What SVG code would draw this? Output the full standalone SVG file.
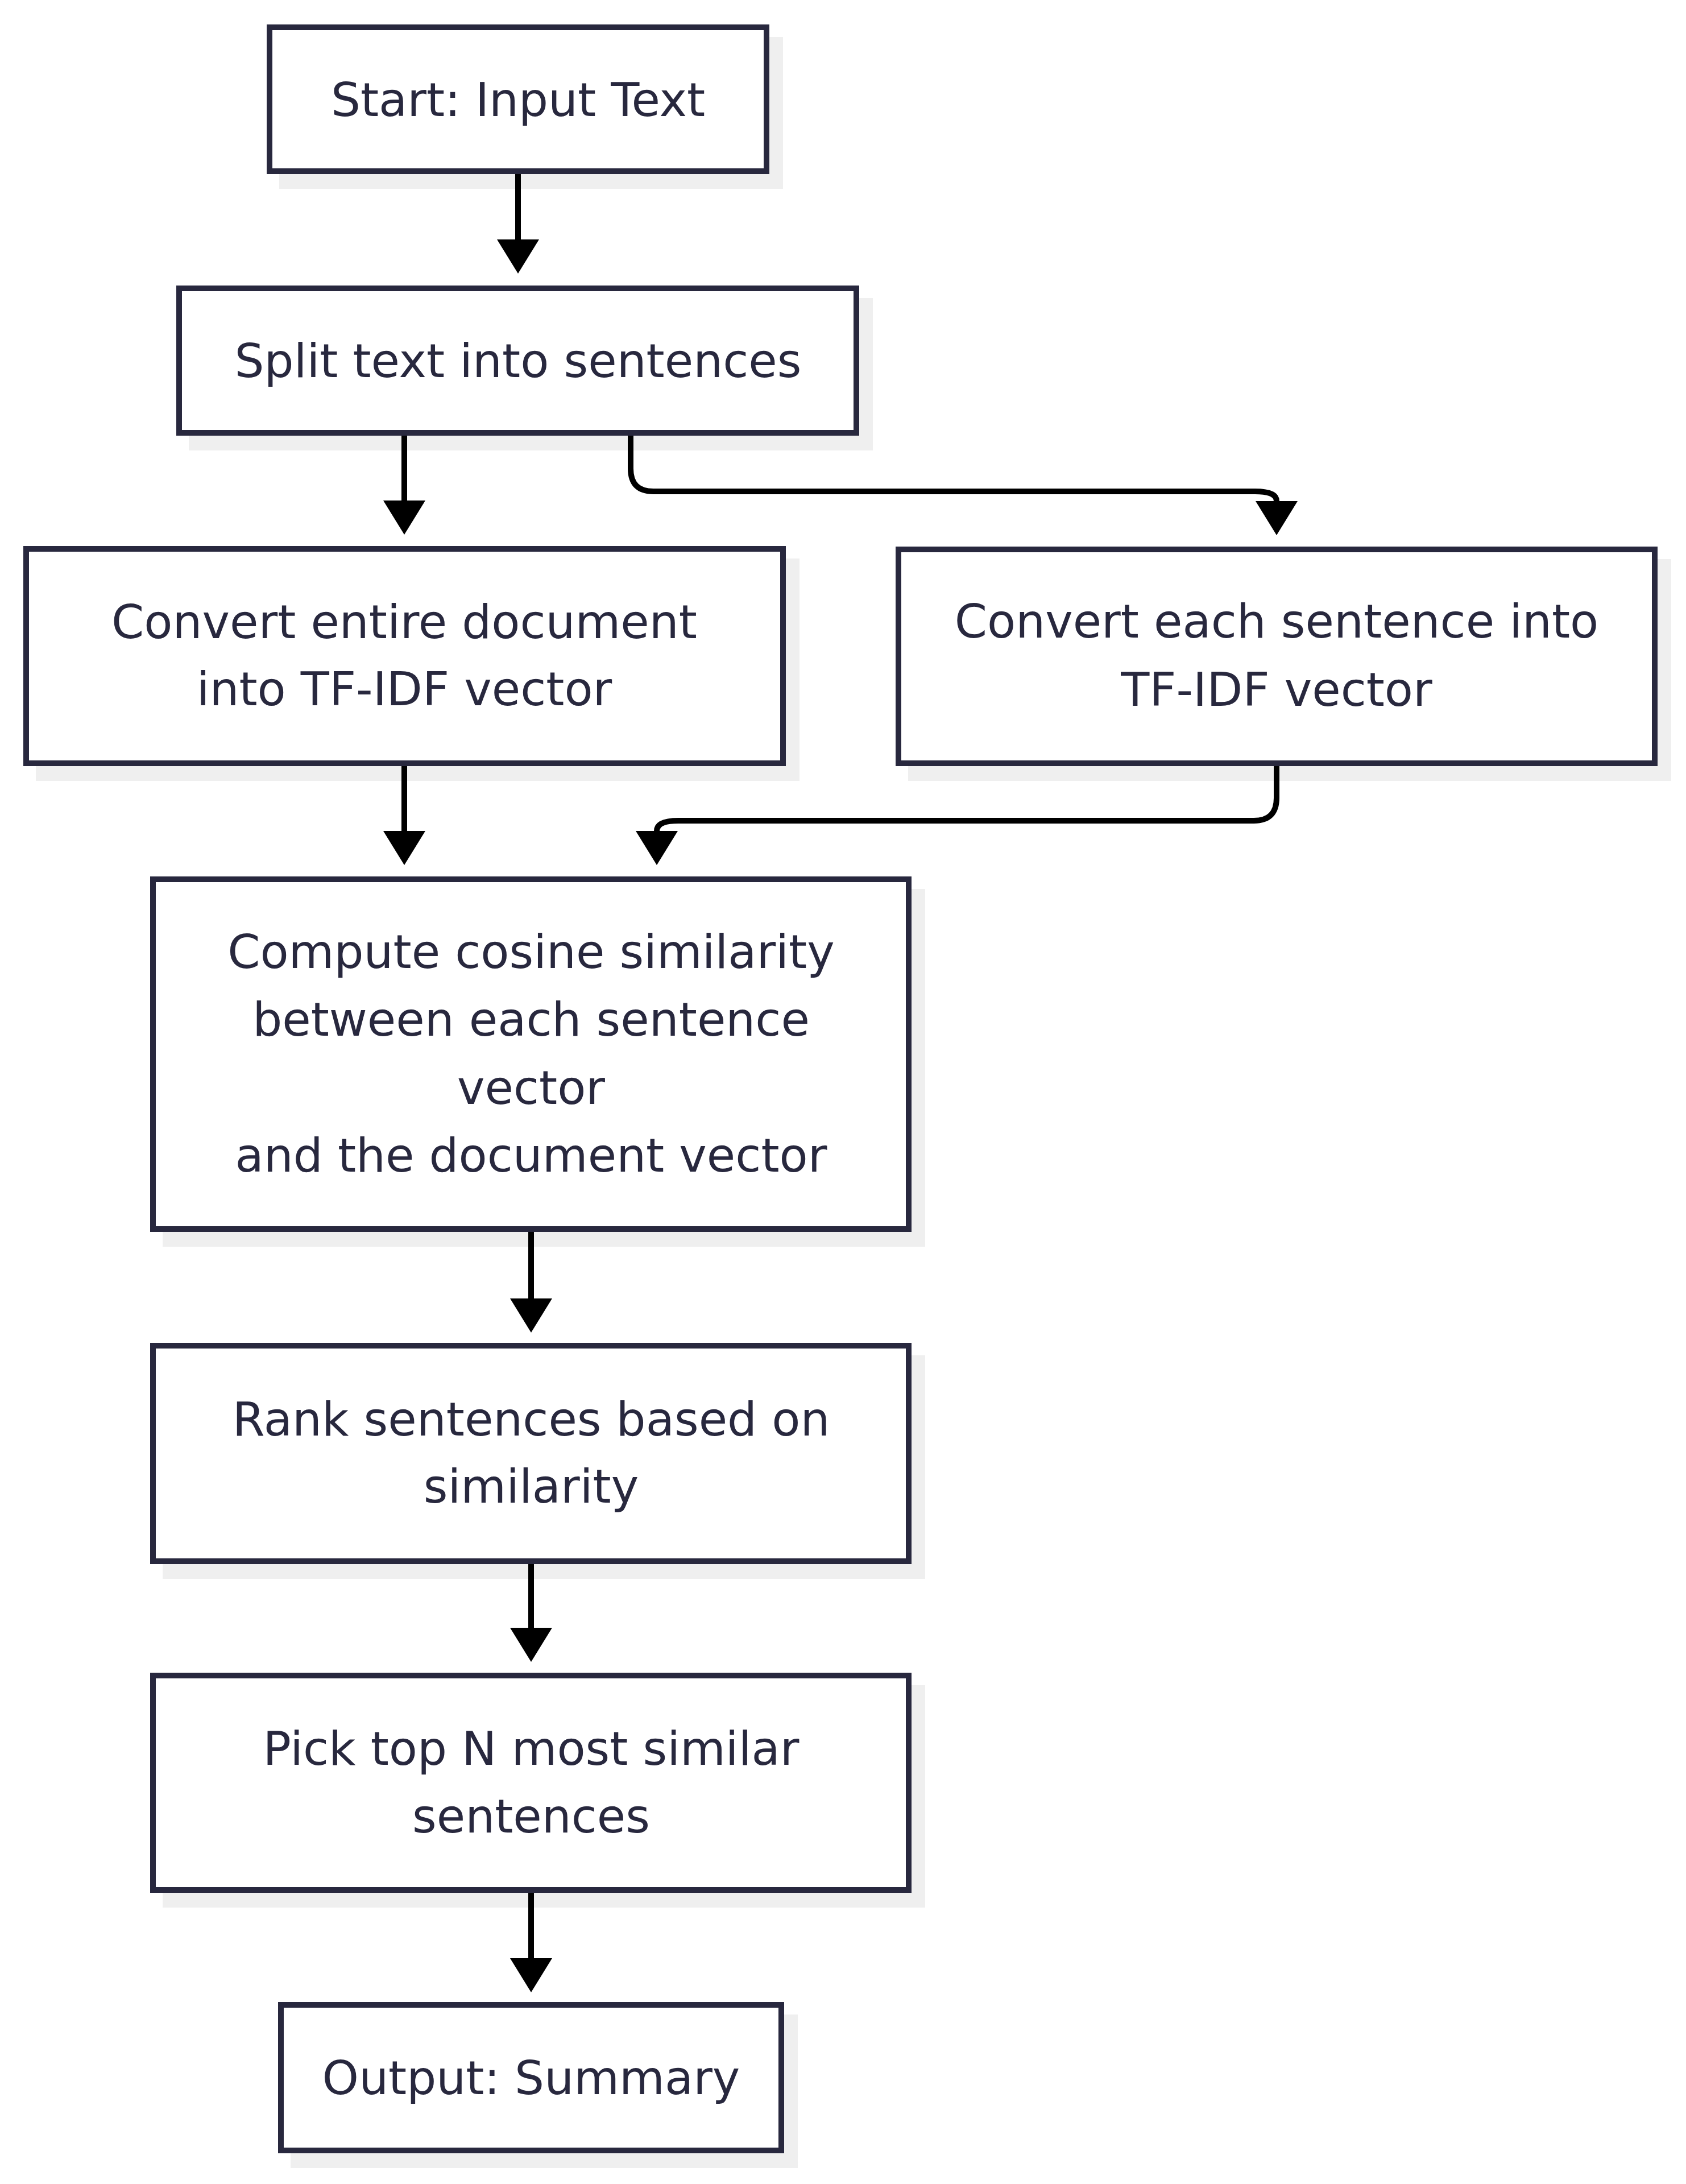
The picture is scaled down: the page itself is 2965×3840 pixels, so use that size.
<svg xmlns="http://www.w3.org/2000/svg" width="2965" height="3840" viewBox="0 0 2965 3840">
<style>
.shadow{fill:#efefef;stroke:none}
.box{fill:#ffffff;stroke:#28283e;stroke-width:10}
.lbl{font-family:"DejaVu Sans","Noto Sans",sans-serif;font-size:82px;fill:#28283e;text-anchor:middle}
.edge{fill:none;stroke:#000000;stroke-width:10}
</style>
<defs>
<marker id="arrow" viewBox="0 0 60 74" refX="0" refY="37" markerWidth="60" markerHeight="74" markerUnits="userSpaceOnUse" orient="auto">
<path d="M0,0 L60,37 L0,74 Z" fill="#000000"/>
</marker>
</defs>
<rect x="0" y="0" width="2965" height="3840" fill="#ffffff"/>
<g id="start">
<rect class="shadow" x="491" y="65" width="886" height="267"/>
<rect class="box" x="474" y="48" width="874" height="253"/>
<text class="lbl" x="911" y="204">Start: Input Text</text>
</g>
<g id="split">
<rect class="shadow" x="332" y="524" width="1203" height="268"/>
<rect class="box" x="315" y="507" width="1191" height="254"/>
<text class="lbl" x="911" y="663">Split text into sentences</text>
</g>
<g id="convertDoc">
<rect class="shadow" x="63" y="982" width="1343" height="391"/>
<rect class="box" x="46" y="965" width="1331" height="377"/>
<text class="lbl" x="711" y="1122">Convert entire document</text>
<text class="lbl" x="711" y="1240">into TF-IDF vector</text>
</g>
<g id="convertEach">
<rect class="shadow" x="1597" y="983" width="1342" height="390"/>
<rect class="box" x="1580" y="966" width="1330" height="376"/>
<text class="lbl" x="2245" y="1121">Convert each sentence into</text>
<text class="lbl" x="2245" y="1241">TF-IDF vector</text>
</g>
<g id="compute">
<rect class="shadow" x="286" y="1563" width="1341" height="629"/>
<rect class="box" x="269" y="1546" width="1329" height="615"/>
<text class="lbl" x="934" y="1702">Compute cosine similarity</text>
<text class="lbl" x="934" y="1821">between each sentence</text>
<text class="lbl" x="934" y="1941">vector</text>
<text class="lbl" x="934" y="2060">and the document vector</text>
</g>
<g id="rank">
<rect class="shadow" x="286" y="2383" width="1341" height="393"/>
<rect class="box" x="269" y="2366" width="1329" height="379"/>
<text class="lbl" x="934" y="2524">Rank sentences based on</text>
<text class="lbl" x="934" y="2642">similarity</text>
</g>
<g id="pick">
<rect class="shadow" x="286" y="2963" width="1341" height="391"/>
<rect class="box" x="269" y="2946" width="1329" height="377"/>
<text class="lbl" x="934" y="3103">Pick top N most similar</text>
<text class="lbl" x="934" y="3222">sentences</text>
</g>
<g id="output">
<rect class="shadow" x="511" y="3542" width="892" height="270"/>
<rect class="box" x="494" y="3525" width="880" height="256"/>
<text class="lbl" x="934" y="3682">Output: Summary</text>
</g>
<g id="connectors">
<path class="edge" marker-end="url(#arrow)" d="M911,306 L911,421"/>
<path class="edge" marker-end="url(#arrow)" d="M711,766 L711,880"/>
<path class="edge" marker-end="url(#arrow)" d="M1109,766 L1109,824 Q1109,864 1149,864 L2207,864 Q2245,864 2245,881"/>
<path class="edge" marker-end="url(#arrow)" d="M711,1347 L711,1461"/>
<path class="edge" marker-end="url(#arrow)" d="M2245,1347 L2245,1403 Q2245,1443 2205,1443 L1193,1443 Q1155,1443 1155,1461"/>
<path class="edge" marker-end="url(#arrow)" d="M934,2166 L934,2283"/>
<path class="edge" marker-end="url(#arrow)" d="M934,2750 L934,2862"/>
<path class="edge" marker-end="url(#arrow)" d="M934,3328 L934,3443"/>
</g>
</svg>
